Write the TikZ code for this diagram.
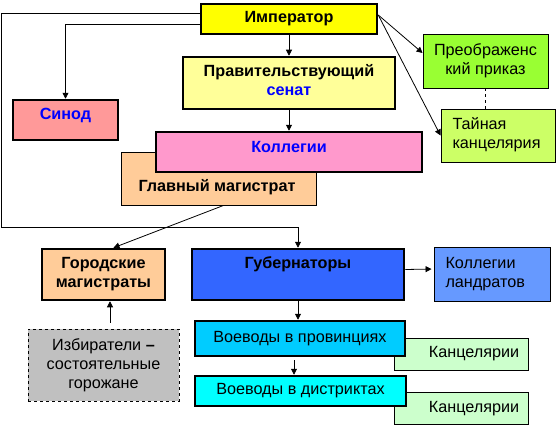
\documentclass[tikz,border=0pt]{standalone}
\usepackage{fontspec}
\setmainfont{Liberation Sans}
\usetikzlibrary{arrows.meta,positioning}
\definecolor{impyellow}{HTML}{FFFF00}
\definecolor{senatyellow}{HTML}{FFFF99}
\definecolor{sinodred}{HTML}{FF9999}
\definecolor{kollpink}{HTML}{FF99CC}
\definecolor{magorange}{HTML}{FFCC99}
\definecolor{preobrgreen}{HTML}{99FF33}
\definecolor{taingreen}{HTML}{CCFF66}
\definecolor{izbgray}{HTML}{C0C0C0}
\definecolor{gubblue}{HTML}{3366FF}
\definecolor{landrblue}{HTML}{6699FF}
\definecolor{voevpcyan}{HTML}{00CCFF}
\definecolor{voevdcyan}{HTML}{00FFFF}
\definecolor{kancgreen}{HTML}{CCFFCC}
\definecolor{txtblue}{HTML}{0000FF}

\tikzset{
  thickbox/.style={draw, line width=2.5pt, inner sep=0pt},
  thinbox/.style={draw, line width=0.9pt, inner sep=0pt},
  lbl/.style={font=\fontsize{16.2}{19}\selectfont\bfseries, align=center},
  txt/.style={font=\fontsize{16.2}{19}\selectfont, align=center},
  arr/.style={-{Triangle[length=6pt,width=6pt]}, line width=0.8pt},
}

\begin{document}
\begin{tikzpicture}[x=1pt,y=-1pt]
\useasboundingbox (0,0) rectangle (557,428);
\fill[white] (0,0) rectangle (557,428);

% Top level
\node[thickbox, lbl, fill=impyellow, minimum width=176pt, minimum height=30pt] (imp) at (289,19) {Император};
\node[thickbox, fill=senatyellow, minimum width=212pt, minimum height=52pt] (senat) at (289,83) {};
\node[lbl] (senattext) at (289,80) {Правительствующий\\\textcolor{txtblue}{сенат}};
\node[thickbox, fill=sinodred, minimum width=105pt, minimum height=40pt] (sinod) at (65.5,120) {};
\node[lbl, text=txtblue] (sinodtext) at (65.5,115.5) {Синод};

% Collegia and chief magistrate
\node[thinbox, fill=magorange, minimum width=195pt, minimum height=53pt] (glmag) at (218.5,178.5) {};
\node[lbl] (glmagtext) at (217,187) {Главный магистрат};
\node[thickbox, fill=kollpink, minimum width=266pt, minimum height=40pt] (koll) at (289,152) {};
\node[lbl, text=txtblue] (kolltext) at (289,147.5) {Коллегии};

% Secret police
\node[thinbox, txt, fill=preobrgreen, minimum width=125pt, minimum height=54pt] (preobr) at (485.5,61) {Преображенс\\кий приказ};
\node[thinbox, fill=taingreen, minimum width=114pt, minimum height=53pt] (tain) at (498,135.5) {};
\node[txt, align=left, anchor=west] (taintext) at (449,135) {Тайная\\канцелярия};

% Local level
\node[thickbox, lbl, fill=magorange, minimum width=123pt, minimum height=51pt] (gormag) at (103.5,274.5) {Городские\\магистраты};
\node[thinbox, txt, dashed, fill=izbgray, minimum width=151pt, minimum height=72pt] (izb) at (103.5,365) {Избиратели \textbf{--}\\состоятельные\\горожане};
\node[thickbox, fill=gubblue, minimum width=212pt, minimum height=51pt] (gub) at (298,274.5) {};
\node[lbl] (gubtext) at (298,264) {Губернаторы};
\node[thinbox, fill=landrblue, minimum width=116pt, minimum height=54pt] (landr) at (492,274) {};
\node[txt, align=left, anchor=west] (landrtext) at (442,274) {Коллегии\\ландратов};

\node[thinbox, fill=kancgreen, minimum width=134pt, minimum height=32pt] (kanc1) at (461,354) {};
\node[txt] (kanc1text) at (474,354) {Канцелярии};
\node[thickbox, txt, fill=voevpcyan, minimum width=210pt, minimum height=35pt] (voevp) at (300,338.5) {Воеводы в провинциях};
\node[thinbox, fill=kancgreen, minimum width=134pt, minimum height=32pt] (kanc2) at (461,408) {};
\node[txt] (kanc2text) at (474,409) {Канцелярии};
\node[thickbox, txt, fill=voevdcyan, minimum width=211pt, minimum height=30pt] (voevd) at (300.5,391) {Воеводы в дистриктах};

% Connectors
\coordinate (impout) at ([yshift=4pt]imp.east);
\coordinate (lcorner) at (1,227);
\draw[arr] (imp.south) -- (senat.north);
\draw[arr] (senat.south) -- (koll.north);
\draw[arr] ([yshift=-5pt]imp.west) -| (sinod.north);
\draw[arr] ([yshift=6pt]imp.west) -| (lcorner) -| (gub.north);
\draw[arr] (impout) -- ([yshift=8pt]preobr.west);
\draw[arr] (impout) -- (tain.west);
\draw[dashed, line width=0.8pt] (preobr.south) -- (preobr.south |- tain.north);
\draw[arr] ([xshift=5pt]glmag.south) -- ([xshift=10pt]gormag.north);
\draw[arr] ([xshift=6.5pt,yshift=6pt]izb.north) -- ([xshift=6.5pt]gormag.south);
\draw[arr, shorten >=2pt] ([yshift=5pt]gub.east) -- ([yshift=5pt]landr.west);
\draw[arr] (gub.south) -- (gub.south |- voevp.north);
\draw[arr] ([xshift=-6pt,yshift=-3pt]voevp.south) -- ([xshift=-6pt]voevp.south |- voevd.north);
\end{tikzpicture}
\end{document}
